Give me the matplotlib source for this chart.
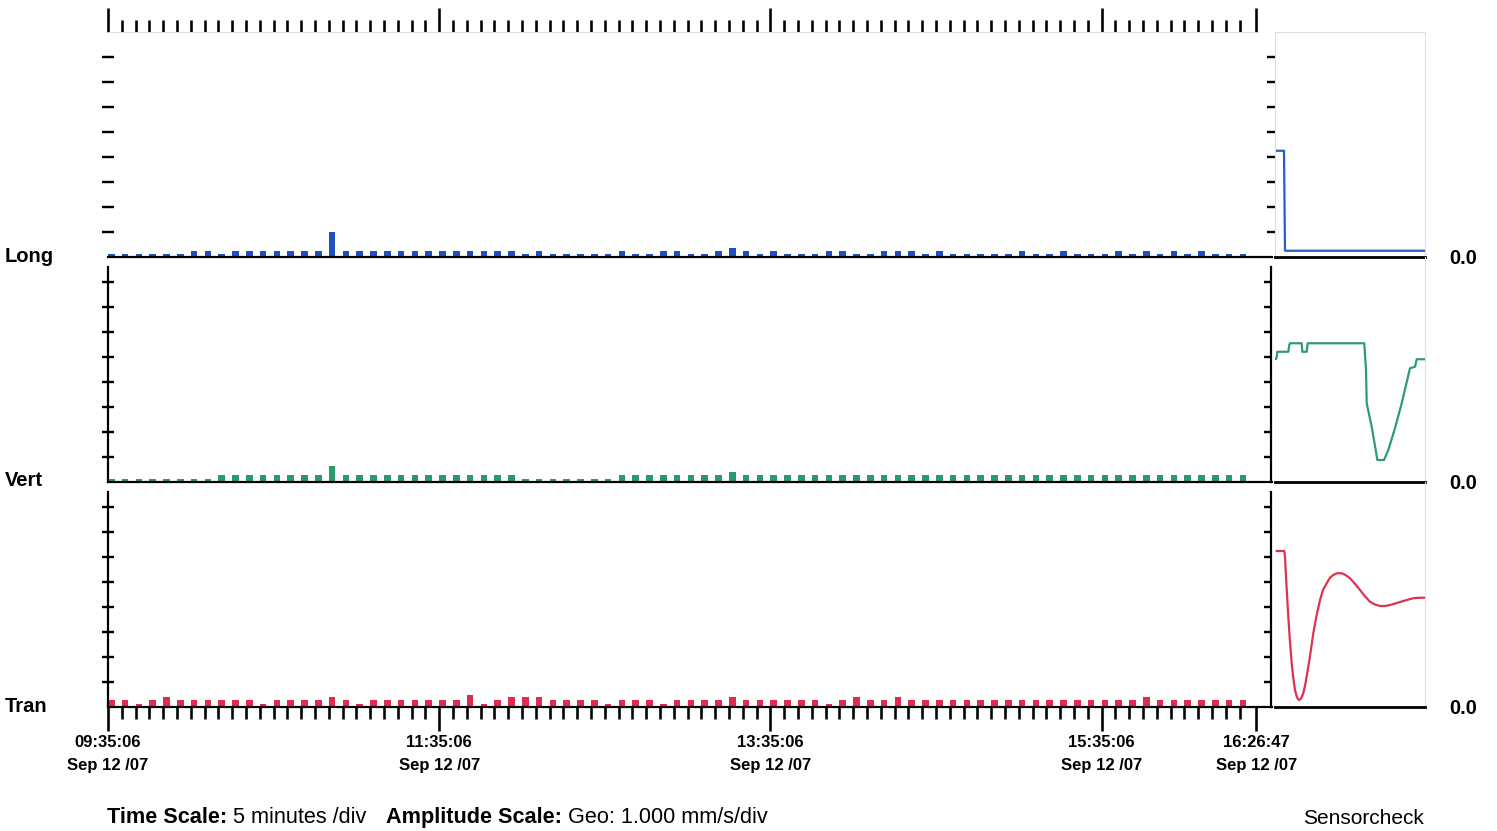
import numpy as np
import matplotlib
matplotlib.use('Agg')
import matplotlib.pyplot as plt

plt.rcParams['font.family'] = ['Liberation Sans', 'DejaVu Sans']

W, H, DPI = 1497, 831, 100

# ---------------- data ----------------
channels = ['Long', 'Vert', 'Tran']
bar_colors = ['#1f4fc0', '#2a9a6c', '#e02a50']
line_colors = ['#2a5cc0', '#2e9a70', '#e03050']

long_vals = [0.12, 0.12, 0.12, 0.12, 0.12, 0.12, 0.25, 0.25, 0.12, 0.25,
             0.25, 0.25, 0.25, 0.25, 0.25, 0.25, 1.00, 0.25, 0.25, 0.25,
             0.25, 0.25, 0.25, 0.25, 0.25, 0.25, 0.25, 0.25, 0.25, 0.25,
             0.12, 0.25, 0.12, 0.12, 0.12, 0.12, 0.12, 0.25, 0.12, 0.12,
             0.25, 0.25, 0.12, 0.12, 0.25, 0.35, 0.25, 0.12, 0.25, 0.12,
             0.12, 0.12, 0.25, 0.25, 0.12, 0.12, 0.25, 0.25, 0.25, 0.12,
             0.25, 0.12, 0.12, 0.12, 0.12, 0.12, 0.25, 0.12, 0.12, 0.25,
             0.12, 0.12, 0.12, 0.25, 0.12, 0.25, 0.12, 0.25, 0.12, 0.25,
             0.12, 0.12, 0.12]

vert_vals = [0.12, 0.12, 0.12, 0.12, 0.12, 0.12, 0.12, 0.12, 0.28, 0.28,
             0.28, 0.28, 0.28, 0.28, 0.28, 0.28, 0.65, 0.28, 0.28, 0.28,
             0.28, 0.28, 0.28, 0.28, 0.28, 0.28, 0.28, 0.28, 0.28, 0.28,
             0.12, 0.12, 0.12, 0.12, 0.12, 0.12, 0.12, 0.28, 0.28, 0.28,
             0.28, 0.28, 0.28, 0.28, 0.28, 0.40, 0.28, 0.28, 0.28, 0.28,
             0.28, 0.28, 0.28, 0.28, 0.28, 0.28, 0.28, 0.28, 0.28, 0.28,
             0.28, 0.28, 0.28, 0.28, 0.28, 0.28, 0.28, 0.28, 0.28, 0.28,
             0.28, 0.28, 0.28, 0.28, 0.28, 0.28, 0.28, 0.28, 0.28, 0.28,
             0.28, 0.28, 0.28]

tran_vals = [0.28, 0.28, 0.12, 0.28, 0.40, 0.28, 0.28, 0.28, 0.28, 0.28,
             0.28, 0.12, 0.28, 0.28, 0.28, 0.28, 0.40, 0.28, 0.12, 0.28,
             0.28, 0.28, 0.28, 0.28, 0.28, 0.28, 0.50, 0.12, 0.28, 0.40,
             0.40, 0.40, 0.28, 0.28, 0.28, 0.28, 0.12, 0.28, 0.28, 0.28,
             0.12, 0.28, 0.28, 0.28, 0.28, 0.40, 0.28, 0.28, 0.28, 0.28,
             0.28, 0.28, 0.12, 0.28, 0.40, 0.28, 0.28, 0.40, 0.28, 0.28,
             0.28, 0.28, 0.28, 0.28, 0.28, 0.28, 0.28, 0.28, 0.28, 0.28,
             0.28, 0.28, 0.28, 0.28, 0.28, 0.40, 0.28, 0.28, 0.28, 0.28,
             0.28, 0.28, 0.28]

# time axis in 5-minute divisions
major_div = [0, 24, 48, 72, 83.2]
major_times = ['09:35:06', '11:35:06', '13:35:06', '15:35:06', '16:26:47']
tick_date = 'Sep 12 /07'
n_minor = 83

# sensorcheck traces (x: samples, y: divisions)
sens_long_x = [1, 9, 10, 150]
sens_long_y = [4.25, 4.25, 0.25, 0.25]

sens_vert_x = [0.7, 1.7, 2.3, 13.3, 14.3, 15.0, 26.7, 27.3, 31.7, 32.7, 89.3, 91.0,
               91.7, 96.7, 101.0, 102.3, 109.0, 113.3, 120.0, 126.7, 135.0, 140.0,
               141.7, 150.0]
sens_vert_y = [4.88, 5.01, 5.21, 5.21, 5.48, 5.55, 5.55, 5.21, 5.21, 5.55, 5.55, 4.48,
               3.15, 2.21, 1.21, 0.88, 0.88, 1.28, 2.15, 3.15, 4.55, 4.61,
               4.91, 4.91]

sens_tran_x = [0.7, 9.3, 10.0, 11.0, 13.3, 15.0, 16.7, 18.3, 20.0, 22.0, 24.0, 26.0,
               28.3, 30.5, 33.3, 35.8, 38.3, 41.5, 45.0, 48.0, 51.7, 55.0, 58.3, 62.0,
               66.7, 70.5, 75.0, 80.0, 85.0, 90.0, 95.0, 100.0, 105.0, 110.0, 115.0,
               121.0, 128.3, 138.3, 144.0, 150.0]
sens_tran_y = [6.24, 6.24, 6.00, 5.21, 3.61, 2.60, 1.75, 1.15, 0.68, 0.38, 0.28, 0.33,
               0.55, 0.95, 1.61, 2.25, 2.95, 3.65, 4.28, 4.68, 4.95, 5.17, 5.28, 5.35,
               5.35, 5.28, 5.15, 4.93, 4.68, 4.43, 4.21, 4.10, 4.04, 4.04, 4.08,
               4.15, 4.24, 4.35, 4.37, 4.37]

values = [long_vals, vert_vals, tran_vals]
sens_x = [sens_long_x, sens_vert_x, sens_tran_x]
sens_y = [sens_long_y, sens_vert_y, sens_tran_y]

# ---------------- layout ----------------
fig = plt.figure(figsize=(W / DPI, H / DPI), dpi=DPI)
fig.patch.set_facecolor('white')


def px_axes(left, top, right, bottom):
    return fig.add_axes([left / W, 1 - bottom / H, (right - left) / W, (bottom - top) / H])


PT = 72.0 / DPI  # points per pixel
panel_rows = [(32, 257), (257, 482), (482, 707)]
main_left, main_right = 108, 1272
div_px = 13.8
sens_left, sens_right = 1275, 1425
light = '#dedede'

minor_pos = [i for i in range(n_minor) if i not in (0, 24, 48, 72)]

for k, (top, bot) in enumerate(panel_rows):
    ax = px_axes(main_left, top, main_right, bot)
    ax.set_xlim(0, (main_right - main_left) / div_px)
    ax.set_ylim(0, 9)
    ax.set_facecolor('none')
    ax.bar(np.arange(len(values[k])), values[k], width=0.48, align='edge',
           color=bar_colors[k], zorder=2)
    for s in ['top', 'right', 'left']:
        ax.spines[s].set_visible(False)
    ax.spines['bottom'].set_color('black')
    ax.spines['bottom'].set_linewidth(2.2 * PT)
    ax.spines['bottom'].set_zorder(3)
    ax.set_yticks(range(1, 9))
    ax.tick_params(axis='y', direction='inout', length=12 * PT, width=2.4 * PT,
                   color='black', labelleft=False)
    if k > 0:
        ax.spines['left'].set_visible(True)
        ax.spines['left'].set_bounds(0, 8.6)
        ax.spines['left'].set_linewidth(2.2 * PT)
    if k == 0:
        ax.spines['top'].set_visible(True)
        ax.spines['top'].set_color(light)
        ax.spines['top'].set_bounds(0, (1256 - main_left) / div_px)
        ax.xaxis.set_ticks_position('top')
        ax.set_xticks(major_div)
        ax.set_xticks(minor_pos, minor=True)
        ax.tick_params(axis='x', which='major', direction='out', length=24 * PT,
                       width=2.6 * PT, labeltop=False, labelbottom=False)
        ax.tick_params(axis='x', which='minor', direction='out', length=12 * PT,
                       width=2.6 * PT)
    elif k == 2:
        ax.set_xticks(major_div)
        ax.set_xticks(minor_pos, minor=True)
        ax.set_xticklabels([t + '\n' + tick_date for t in major_times],
                           fontsize=12, fontweight='bold', linespacing=1.65)
        ax.tick_params(axis='x', which='major', direction='out', length=24 * PT,
                       width=2.6 * PT, pad=3)
        ax.tick_params(axis='x', which='minor', direction='out', length=12 * PT,
                       width=2.6 * PT)
    else:
        ax.set_xticks([])

    # sensorcheck panel
    sx = px_axes(sens_left, top, sens_right, bot)
    sx.set_xlim(0, 150)
    sx.set_ylim(0, 9)
    sx.set_facecolor('none')
    sx.plot(sens_x[k], sens_y[k], color=line_colors[k], lw=2.2 * PT,
            solid_joinstyle='round', solid_capstyle='butt', zorder=3)
    sx.spines['bottom'].set_color('black')
    sx.spines['bottom'].set_linewidth(2.8 * PT)
    sx.spines['right'].set_color(light)
    sx.spines['top'].set_visible(k == 0)
    sx.spines['top'].set_color(light)
    sx.set_xticks([])
    sx.set_yticks(range(1, 9))
    if k == 0:
        sx.spines['left'].set_color(light)
        sx.tick_params(axis='y', direction='out', length=8 * PT, width=2.4 * PT,
                       color='black', labelleft=False)
    else:
        sx.spines['left'].set_position(('outward', 3))
        sx.spines['left'].set_bounds(0, 8.6)
        sx.spines['left'].set_linewidth(2.2 * PT)
        sx.tick_params(axis='y', direction='out', length=7 * PT, width=2.4 * PT,
                       color='black', labelleft=False)

    fig.text(5 / W, 1 - (bot - 1) / H, channels[k], ha='left', va='center',
             fontsize=14.5, fontweight='bold')
    fig.text(1449 / W, 1 - (bot + 1) / H, '0.0', ha='left', va='center',
             fontsize=14.5, fontweight='bold')

fig.text(1424 / W, 1 - 824 / H, 'Sensorcheck', ha='right', va='baseline', fontsize=15)

# footer with mixed weights
pieces = [('Time Scale:', 'bold', 0), (' 5 minutes /div', 'normal', 0),
          ('Amplitude Scale:', 'bold', 20), (' Geo: 1.000 mm/s/div', 'normal', 0)]
fig.canvas.draw()
renderer = fig.canvas.get_renderer()
x = 107
for txt, wt, gap in pieces:
    x += gap
    t = fig.text(x / W, 1 - 823 / H, txt, ha='left', va='baseline', fontsize=15.6,
                 fontweight=wt)
    bb = t.get_window_extent(renderer=renderer)
    x += bb.width

fig.savefig('out.png', dpi=DPI, facecolor='white')
